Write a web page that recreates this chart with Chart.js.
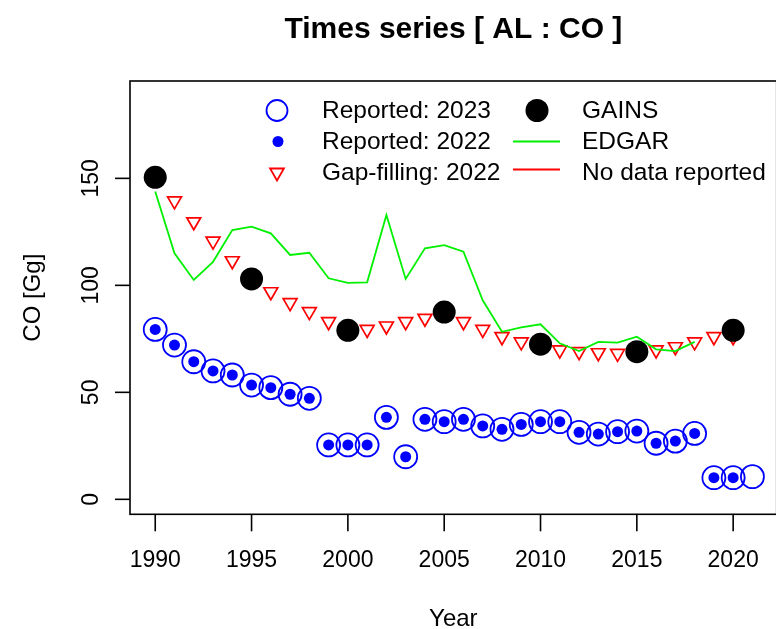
<!DOCTYPE html>
<html>
<head>
<meta charset="utf-8">
<script src="https://cdn.jsdelivr.net/npm/chart.js@4.4.1/dist/chart.umd.min.js"></script>
<style>
  html, body { margin: 0; padding: 0; overflow: hidden; background: #ffffff; }
  #wrap { width: 790px; height: 629px; }
</style>
</head>
<body>
<div id="wrap"><canvas id="c" width="790" height="629"></canvas></div>
<script>
// ---- data (CO emissions, Gg) ----
const reportedYears = [1990,1991,1992,1993,1994,1995,1996,1997,1998,1999,2000,2001,2002,2003,2004,2005,2006,2007,2008,2009,2010,2011,2012,2013,2014,2015,2016,2017,2018,2019,2020,2021];
const reported2023 = [79.4,72.1,64.3,60.0,58.1,53.4,52.2,49.1,47.2,25.4,25.4,25.4,38.3,19.9,37.4,36.3,37.4,34.3,32.7,35.0,36.3,36.3,31.3,30.5,31.6,31.9,26.2,27.2,30.8,10.1,10.1,10.6];
const reported2022 = [79.4,72.1,64.3,60.0,58.1,53.4,52.2,49.1,47.2,25.4,25.4,25.4,38.3,19.9,37.4,36.3,37.4,34.3,32.7,35.0,36.3,36.3,31.3,30.5,31.6,31.9,26.2,27.2,30.8,10.1,10.1];

const gapYears = [1991,1992,1993,1994,1995,1996,1997,1998,1999,2000,2001,2002,2003,2004,2005,2006,2007,2008,2009,2010,2011,2012,2013,2014,2015,2016,2017,2018,2019,2020];
const gapFill2022 = [139.5,129.7,120.7,111.5,103.0,97.0,91.9,87.7,83.0,79.0,79.4,81.0,83.0,84.6,87.5,83.0,79.4,76.0,73.6,72.5,69.8,69.0,68.5,68.2,69.0,69.8,71.3,73.6,76.0,76.0];

const edgarYears = [1990,1991,1992,1993,1994,1995,1996,1997,1998,1999,2000,2001,2002,2003,2004,2005,2006,2007,2008,2009,2010,2011,2012,2013,2014,2015,2016,2017,2018];
const edgar = [143.9,115.0,102.5,111.0,125.8,127.4,124.3,114.2,115.2,103.3,101.2,101.4,132.9,103.0,117.3,118.8,115.7,93.0,78.3,80.4,81.8,72.9,69.3,73.6,73.2,76.0,70.1,69.3,73.6];

const gainsYears = [1990,1995,2000,2005,2010,2015,2020];
const gains = [150.5,103.0,79.0,87.5,72.5,69.0,79.0];

const xTicks = [1990,1995,2000,2005,2010,2015,2020];
const yTicks = [0,50,100,150];

const titleText = 'Times series [ AL : CO ]';
const xTitle = 'Year';
const yTitle = 'CO [Gg]';
const legendLeft = ['Reported: 2023', 'Reported: 2022', 'Gap-filling: 2022'];
const legendRight = ['GAINS', 'EDGAR', 'No data reported'];

const pts = (xs, ys) => xs.map((x, i) => ({ x: x, y: ys[i] }));

const BLUE = '#0000ff', RED = '#ff0000', GREEN = '#00f000', BLACK = '#000000';
const FONT = '"Liberation Sans", Arial, sans-serif';

// frame, axes, titles and legend drawn in base-graphics style
const frame = {
  id: 'frame',
  afterDraw(chart) {
    const ctx = chart.ctx;
    const a = chart.chartArea;
    const xs = chart.scales.x, ys = chart.scales.y;
    ctx.save();
    ctx.strokeStyle = BLACK;
    ctx.fillStyle = BLACK;
    ctx.lineWidth = 1.6;
    ctx.strokeRect(a.left, a.top, a.right - a.left, a.bottom - a.top);

    // x axis
    ctx.font = '23px ' + FONT;
    ctx.textAlign = 'center';
    ctx.textBaseline = 'alphabetic';
    xTicks.forEach(v => {
      const px = xs.getPixelForValue(v);
      ctx.beginPath(); ctx.moveTo(px, a.bottom); ctx.lineTo(px, a.bottom + 17); ctx.stroke();
      ctx.fillText(String(v), px, 567);
    });
    // y axis
    yTicks.forEach(v => {
      const py = ys.getPixelForValue(v);
      ctx.beginPath(); ctx.moveTo(a.left, py); ctx.lineTo(a.left - 15, py); ctx.stroke();
      ctx.save();
      ctx.translate(98, py);
      ctx.rotate(-Math.PI / 2);
      ctx.fillText(String(v), 0, 0);
      ctx.restore();
    });

    // axis titles
    ctx.font = '24px ' + FONT;
    ctx.fillText(xTitle, (a.left + a.right) / 2, 626);
    ctx.save();
    ctx.translate(40, (a.top + a.bottom) / 2);
    ctx.rotate(-Math.PI / 2);
    ctx.fillText(yTitle, 0, 0);
    ctx.restore();

    // main title
    ctx.font = 'bold 30px ' + FONT;
    ctx.fillText(titleText, (a.left + a.right) / 2, 38);

    // legend
    const rows = [110.5, 141.5, 172.5];
    const c1 = 277, t1 = 322, c2 = 537, t2 = 582;
    ctx.font = '24.5px ' + FONT;
    ctx.textAlign = 'left';
    ctx.textBaseline = 'middle';
    legendLeft.forEach((s, i) => ctx.fillText(s, t1, rows[i] + 1));
    legendRight.forEach((s, i) => ctx.fillText(s, t2, rows[i] + 1));

    // symbols, column 1
    ctx.lineWidth = 1.8;
    ctx.strokeStyle = BLUE;
    ctx.beginPath(); ctx.arc(c1, rows[0], 10.5, 0, Math.PI * 2); ctx.stroke();
    ctx.fillStyle = BLUE;
    ctx.beginPath(); ctx.arc(c1 + 1, rows[1], 5.5, 0, Math.PI * 2); ctx.fill();
    ctx.strokeStyle = RED;
    const r = 8, ty = rows[2];
    ctx.beginPath();
    ctx.moveTo(c1, ty + r);
    ctx.lineTo(c1 - r * Math.sin(Math.PI / 3), ty - r / 2);
    ctx.lineTo(c1 + r * Math.sin(Math.PI / 3), ty - r / 2);
    ctx.closePath(); ctx.stroke();

    // symbols, column 2
    ctx.fillStyle = BLACK;
    ctx.beginPath(); ctx.arc(c2, rows[0], 11.5, 0, Math.PI * 2); ctx.fill();
    ctx.lineWidth = 2;
    ctx.strokeStyle = GREEN;
    ctx.beginPath(); ctx.moveTo(c2 - 24, rows[1]); ctx.lineTo(c2 + 23, rows[1]); ctx.stroke();
    ctx.strokeStyle = RED;
    ctx.beginPath(); ctx.moveTo(c2 - 24, rows[2] - 3); ctx.lineTo(c2 + 23, rows[2] - 3); ctx.stroke();
    ctx.restore();
  }
};

new Chart(document.getElementById('c'), {
  type: 'scatter',
  data: {
    datasets: [
      { label: 'GAINS', data: pts(gainsYears, gains), order: 1,
        pointStyle: 'circle', pointRadius: 11.5, pointBackgroundColor: BLACK, pointBorderColor: BLACK, pointBorderWidth: 0, showLine: false },
      { label: 'EDGAR', data: pts(edgarYears, edgar), order: 2,
        showLine: true, borderColor: GREEN, borderWidth: 1.8, pointRadius: 0, tension: 0, fill: false },
      { label: 'Gap-filling: 2022', data: pts(gapYears, gapFill2022), order: 3,
        pointStyle: 'triangle', rotation: 180, pointRadius: 8, pointBorderColor: RED, pointBackgroundColor: 'rgba(0,0,0,0)', pointBorderWidth: 1.7, showLine: false },
      { label: 'Reported: 2022', data: pts(reportedYears.slice(0, reported2022.length), reported2022), order: 4,
        pointStyle: 'circle', pointRadius: 5.5, pointBackgroundColor: BLUE, pointBorderColor: BLUE, pointBorderWidth: 0, showLine: false },
      { label: 'Reported: 2023', data: pts(reportedYears, reported2023), order: 5,
        pointStyle: 'circle', pointRadius: 11.5, pointBackgroundColor: 'rgba(0,0,0,0)', pointBorderColor: BLUE, pointBorderWidth: 1.8, showLine: false }
    ]
  },
  options: {
    responsive: false,
    animation: false,
    devicePixelRatio: 1,
    layout: { padding: { left: 130, right: 9.5, top: 81, bottom: 114.7 } },
    scales: {
      x: { type: 'linear', display: false, min: 1988.69, max: 2022.26 },
      y: { type: 'linear', display: false, min: -7.0, max: 195.5 }
    },
    plugins: {
      legend: { display: false },
      title: { display: false },
      tooltip: { enabled: false }
    },
    elements: { point: { hoverRadius: 0 } }
  },
  plugins: [frame]
});
</script>
</body>
</html>
